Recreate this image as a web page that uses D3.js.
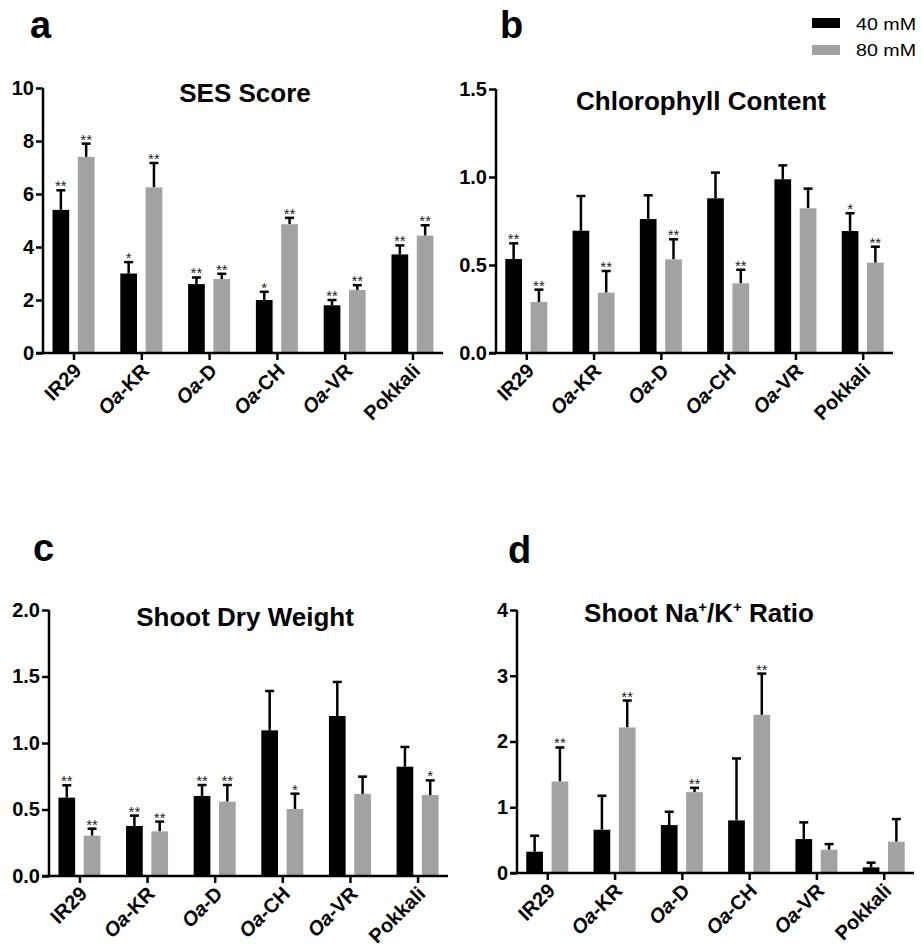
<!DOCTYPE html>
<html>
<head>
<meta charset="utf-8">
<script src="https://cdn.jsdelivr.net/npm/d3@7"></script>
<style>
  body { margin: 0; background: #fff; }
  svg, svg text { font-family: "Liberation Sans", Arial, Helvetica, sans-serif; }
</style>
</head>
<body>
<div id="chart"></div>
<script>
// Cultivars on the x axis ("Oa" prefix drawn in italic)
const cultivars = ["IR29", "Oa-KR", "Oa-D", "Oa-CH", "Oa-VR", "Pokkali"];
const series = ["40 mM", "80 mM"];
const colors = ["#000000", "#a2a2a2"];

// a: SES score
const sesMean40 = [5.4, 3.0, 2.6, 2.0, 1.8, 3.72];
const sesErr40  = [6.14, 3.43, 2.85, 2.31, 2.0, 4.06];
const sesMean80 = [7.4, 6.25, 2.79, 4.86, 2.38, 4.43];
const sesErr80  = [7.9, 7.17, 2.99, 5.1, 2.56, 4.82];
const sesStar40 = ["**", "*", "**", "*", "**", "**"];
const sesStar80 = ["**", "**", "**", "**", "**", "**"];

// b: chlorophyll content
const chlMean40 = [0.534, 0.695, 0.761, 0.879, 0.987, 0.693];
const chlErr40  = [0.623, 0.892, 0.896, 1.025, 1.066, 0.794];
const chlMean80 = [0.29, 0.343, 0.532, 0.396, 0.822, 0.513];
const chlErr80  = [0.36, 0.466, 0.646, 0.473, 0.934, 0.604];
const chlStar40 = ["**", "", "", "", "", "*"];
const chlStar80 = ["**", "**", "**", "**", "", "**"];

// c: shoot dry weight
const sdwMean40 = [0.589, 0.376, 0.602, 1.095, 1.203, 0.822];
const sdwErr40  = [0.682, 0.454, 0.684, 1.391, 1.459, 0.97];
const sdwMean80 = [0.303, 0.336, 0.559, 0.504, 0.617, 0.609];
const sdwErr80  = [0.356, 0.409, 0.684, 0.619, 0.747, 0.719];
const sdwStar40 = ["**", "**", "**", "", "", ""];
const sdwStar80 = ["**", "**", "**", "*", "", "*"];

// d: shoot Na+/K+ ratio
const nakMean40 = [0.324, 0.658, 0.729, 0.8, 0.516, 0.086];
const nakErr40  = [0.567, 1.175, 0.932, 1.742, 0.77, 0.157];
const nakMean80 = [1.392, 2.213, 1.23, 2.405, 0.354, 0.476];
const nakErr80  = [1.909, 2.623, 1.296, 3.033, 0.44, 0.82];
const nakStar40 = ["", "", "", "", "", ""];
const nakStar80 = ["**", "**", "**", "**", "", ""];

const yTicksA = [0, 2, 4, 6, 8, 10];
const yTicksB = [0, 0.5, 1.0, 1.5];
const yTicksC = [0, 0.5, 1.0, 1.5, 2.0];
const yTicksD = [0, 1, 2, 3, 4];

const FONT = "Liberation Sans, Arial, Helvetica, sans-serif";
const W = 922, H = 948;
const svg = d3.select("#chart").append("svg")
  .attr("width", W)
  .attr("height", H);

const panels = [
  { label: "a", lx: 30, ly: 38, title: [{t: "SES Score"}], tx: 245, ty: 102,
    x0: 43, x1: 443, y0: 353, y1: 88, max: 10, ticks: yTicksA, fmt: d3.format("d"),
    m40: sesMean40, e40: sesErr40, m80: sesMean80, e80: sesErr80, s40: sesStar40, s80: sesStar80 },
  { label: "b", lx: 500, ly: 38, title: [{t: "Chlorophyll Content"}], tx: 701, ty: 110,
    x0: 496, x1: 893, y0: 353, y1: 89, max: 1.5, ticks: yTicksB, fmt: d3.format(".1f"),
    m40: chlMean40, e40: chlErr40, m80: chlMean80, e80: chlErr80, s40: chlStar40, s80: chlStar80 },
  { label: "c", lx: 33, ly: 561, title: [{t: "Shoot Dry Weight"}], tx: 245, ty: 626,
    x0: 49, x1: 448, y0: 876, y1: 610, max: 2.0, ticks: yTicksC, fmt: d3.format(".1f"),
    m40: sdwMean40, e40: sdwErr40, m80: sdwMean80, e80: sdwErr80, s40: sdwStar40, s80: sdwStar80 },
  { label: "d", lx: 508, ly: 563,
    title: [{t: "Shoot Na"}, {t: "+", sup: true}, {t: "/K"}, {t: "+", sup: true}, {t: " Ratio"}],
    tx: 699, ty: 622,
    x0: 517, x1: 914, y0: 873, y1: 610, max: 4, ticks: yTicksD, fmt: d3.format("d"),
    m40: nakMean40, e40: nakErr40, m80: nakMean80, e80: nakErr80, s40: nakStar40, s80: nakStar80 }
];

panels.forEach(p => drawPanel(p));

function drawPanel(p) {
  const g = svg.append("g").attr("class", "panel-" + p.label);

  const x = d3.scalePoint().domain(cultivars).range([p.x0, p.x1]).padding(0.45);
  const xs = d3.scaleBand().domain(series).range([-21, 21]).paddingInner(0.34);
  const y = d3.scaleLinear().domain([0, p.max]).range([p.y0, p.y1]);

  // panel letter
  g.append("text")
    .attr("x", p.lx).attr("y", p.ly)
    .attr("font-size", 38).attr("font-weight", "bold")
    .text(p.label);

  // title
  const t = g.append("text")
    .attr("x", p.tx).attr("y", p.ty)
    .attr("text-anchor", "middle")
    .attr("font-size", 26).attr("font-weight", "bold");
  p.title.forEach(s => {
    const ts = t.append("tspan").text(s.t);
    if (s.sup) ts.attr("font-size", 15).attr("dy", -10);
    else if (t.selectAll("tspan").size() > 1) ts.attr("dy", 10);
  });

  // bars, error bars, stars
  const rows = [];
  cultivars.forEach((c, i) => {
    rows.push({ c, s: series[0], col: colors[0], m: p.m40[i], e: p.e40[i], star: p.s40[i] });
    rows.push({ c, s: series[1], col: colors[1], m: p.m80[i], e: p.e80[i], star: p.s80[i] });
  });

  const bw = xs.bandwidth();
  const bars = g.append("g");
  rows.forEach(r => {
    const bx = x(r.c) + xs(r.s);
    const cx = bx + bw / 2;
    // error whisker (upper only)
    bars.append("line")
      .attr("x1", cx).attr("x2", cx)
      .attr("y1", y(r.m)).attr("y2", y(r.e))
      .attr("stroke", "#000").attr("stroke-width", 2.5);
    bars.append("line")
      .attr("x1", cx - 4.5).attr("x2", cx + 4.5)
      .attr("y1", y(r.e)).attr("y2", y(r.e))
      .attr("stroke", "#000").attr("stroke-width", 2.5);
    bars.append("rect")
      .attr("x", bx).attr("y", y(r.m))
      .attr("width", bw).attr("height", p.y0 - y(r.m))
      .attr("fill", r.col);
    if (r.star) {
      bars.append("text")
        .attr("x", cx).attr("y", y(r.e) + 1)
        .attr("text-anchor", "middle")
        .attr("font-size", 15).attr("fill", "#222")
        .text(r.star);
    }
  });

  // y axis
  const yAxis = g.append("g")
    .attr("transform", `translate(${p.x0},0)`)
    .call(d3.axisLeft(y).tickValues(p.ticks).tickFormat(p.fmt).tickSize(7).tickPadding(2));
  yAxis.select(".domain").attr("stroke-width", 2.5).attr("d", `M0,${p.y0}V${p.y1}`);
  yAxis.selectAll(".tick line").attr("stroke-width", 2.5);
  yAxis.selectAll(".tick text")
    .attr("font-size", 20).attr("font-weight", "bold").attr("fill", "#000")
    .attr("font-family", FONT);

  // x axis
  const xAxis = g.append("g")
    .attr("transform", `translate(0,${p.y0})`)
    .call(d3.axisBottom(x).tickSize(7).tickFormat(""));
  xAxis.select(".domain").attr("stroke-width", 2.5).attr("d", `M${p.x0 - 7},0H${p.x1}`);
  xAxis.selectAll(".tick line").attr("stroke-width", 2.5);

  cultivars.forEach(c => {
    const lab = g.append("text")
      .attr("transform", `translate(${x(c) + 9},${p.y0 + 19}) rotate(-45)`)
      .attr("text-anchor", "end")
      .attr("font-size", 20).attr("font-weight", "bold");
    if (c.startsWith("Oa-")) {
      lab.append("tspan").attr("font-style", "italic").text("Oa");
      lab.append("tspan").text(c.slice(2));
    } else {
      lab.text(c);
    }
  });
}

// legend
const legend = svg.append("g").attr("class", "legend");
series.forEach((s, i) => {
  legend.append("rect")
    .attr("x", 812).attr("y", 18 + i * 27)
    .attr("width", 28).attr("height", 10)
    .attr("fill", colors[i]);
  legend.append("text")
    .attr("x", 856).attr("y", 29.5 + i * 26)
    .attr("font-size", 16).attr("font-family", FONT)
    .attr("textLength", 60).attr("lengthAdjust", "spacingAndGlyphs")
    .text(s);
});
</script>
</body>
</html>
